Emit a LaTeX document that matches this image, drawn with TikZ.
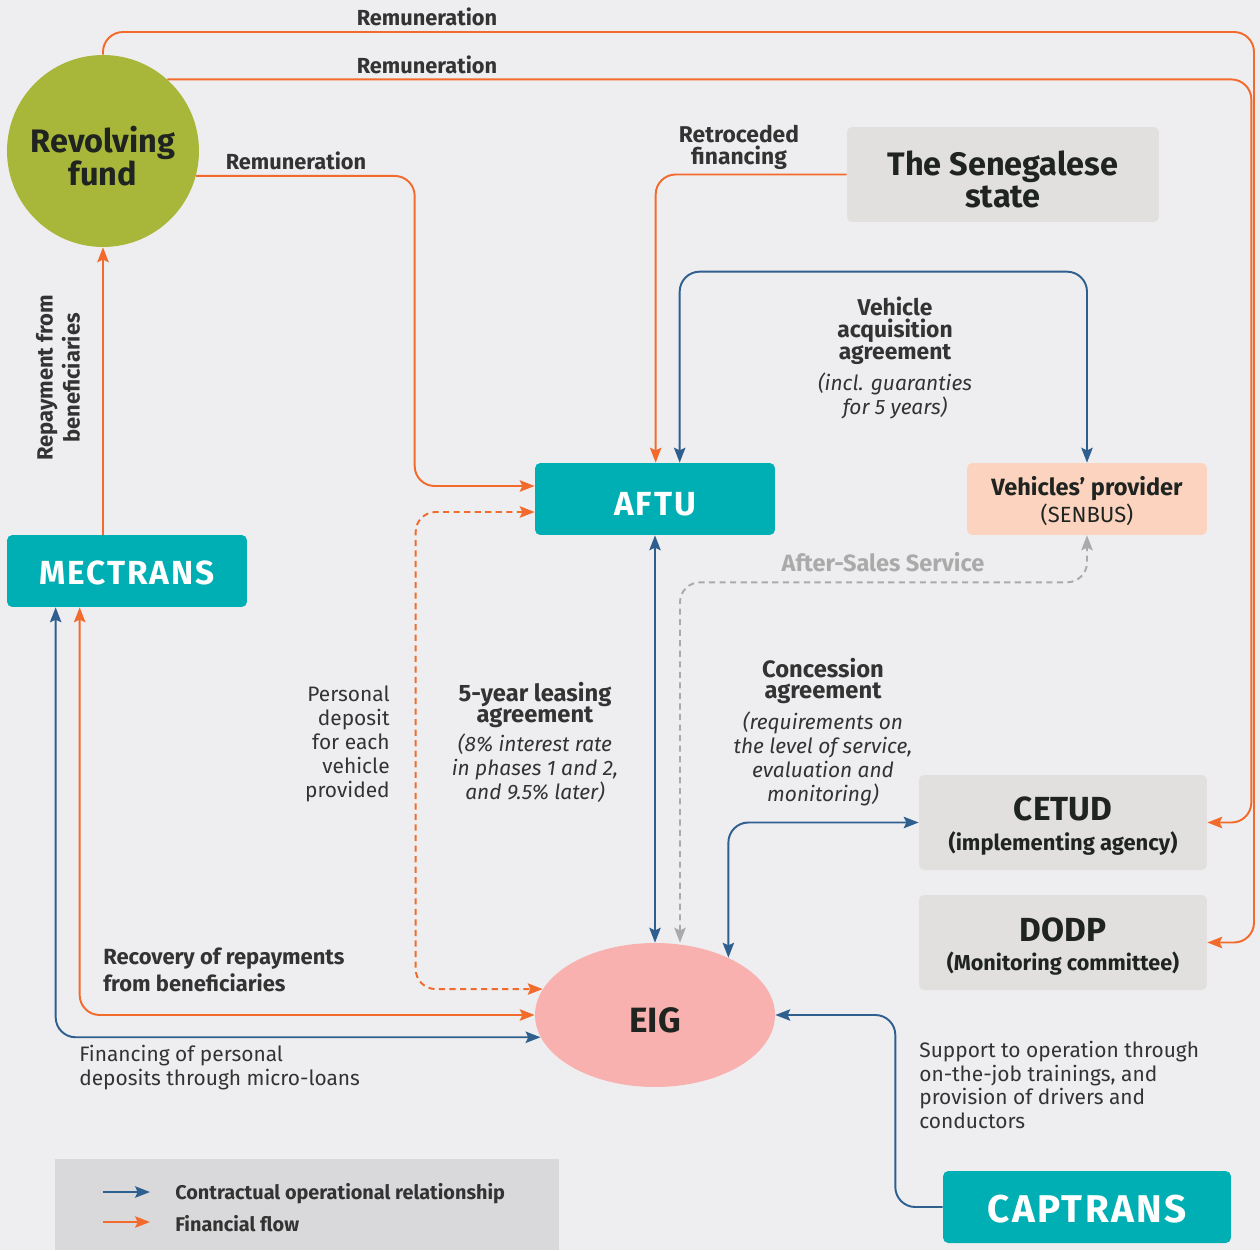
\documentclass[tikz,border=0pt]{standalone}
\usepackage{fontspec}
\setmainfont{Fira Sans}
\newfontfamily\widefont[LetterSpace=6.0]{Fira Sans}
\usetikzlibrary{arrows.meta,calc,shapes.geometric}

\definecolor{paper}{HTML}{EEEEF0}
\definecolor{olive}{HTML}{A8B739}
\definecolor{tealbox}{HTML}{00AFB3}
\definecolor{peach}{HTML}{FCD3BF}
\definecolor{stone}{HTML}{E1E0DE}
\definecolor{rose}{HTML}{F8B1AF}
\definecolor{flow}{HTML}{F26A2C}
\definecolor{contract}{HTML}{2F5F8F}
\definecolor{legendbg}{HTML}{D9D9DB}
\definecolor{ink}{HTML}{333333}
\definecolor{darkink}{HTML}{1F2421}
\definecolor{service}{HTML}{AAAAAA}

\tikzset{
  >={Stealth[length=8.5pt,width=6.5pt,inset=1.5pt]},
  money/.style={draw=flow, line width=1.1pt, rounded corners=0.4cm},
  deal/.style={draw=contract, line width=1.1pt, rounded corners=0.4cm},
  actor/.style={rectangle, rounded corners=3pt, inner sep=0pt},
  teambox/.style={actor, fill=tealbox, minimum height=1.44cm},
  actortext/.style={inner sep=0pt, text=darkink, align=center},
  teamtext/.style={inner sep=0pt, text=white, font=\widefont\bfseries\fontsize{19}{20}\selectfont},
  lbl/.style={inner sep=0pt, text=ink, align=center, font=\bfseries\fontsize{12.4}{14}\selectfont},
  note/.style={inner sep=0pt, text=ink, align=center, font=\itshape\fontsize{11.9}{13.6}\selectfont},
  txt/.style={inner sep=0pt, text=ink, font=\fontsize{11.9}{13.6}\selectfont}
}

\begin{document}
\begin{tikzpicture}[x=0.02cm, y=-0.02cm]
  \fill[paper] (0,0) rectangle (1260,1250);
  \useasboundingbox (0,0) rectangle (1260,1250);

  % actors
  \node[circle, fill=olive, minimum size=3.84cm, inner sep=0pt] (fund) at (103,151) {};
  \node[actortext, font=\bfseries\fontsize{18.5}{17.6}\selectfont] (fundtext) at ($(fund)+(0,5)$) {Revolving\\fund};
  \node[actor, fill=stone, minimum width=6.24cm, minimum height=1.9cm] (state) at (1003,174.5) {};
  \node[actortext, font=\bfseries\fontsize{18.5}{18}\selectfont] (statetext) at ($(state)+(0,5)$) {The Senegalese\\state};
  \node[teambox, minimum width=4.8cm] (aftu) at (655,499) {};
  \node[teamtext] (aftutext) at ($(aftu)+(0,5)$) {AFTU};
  \node[actor, fill=peach, minimum width=4.8cm, minimum height=1.44cm] (provider) at (1087,499) {};
  \node[actortext, font=\fontsize{12.5}{15.3}\selectfont] (providertext) at ($(provider)+(0,2)$)
        {{\bfseries\fontsize{13.4}{15.3}\selectfont Vehicles’ provider}\\(SENBUS)};
  \node[teambox, minimum width=4.8cm] (mectrans) at (127,571) {};
  \node[teamtext] (mectranstext) at ($(mectrans)+(0,2)$) {MECTRANS};
  \node[actor, fill=stone, minimum width=5.76cm, minimum height=1.9cm] (cetud) at (1063,822.5) {};
  \node[actortext, font=\bfseries\fontsize{12.5}{17}\selectfont] (cetudtext) at ($(cetud)+(0,4)$)
        {{\fontsize{19}{20}\selectfont CETUD}\\(implementing agency)};
  \node[actor, fill=stone, minimum width=5.76cm, minimum height=1.9cm] (dodp) at (1063,942.5) {};
  \node[actortext, font=\bfseries\fontsize{12.3}{17}\selectfont] (dodptext) at ($(dodp)+(0,4)$)
        {{\fontsize{19}{20}\selectfont DODP}\\(Monitoring committee)};
  \node[ellipse, fill=rose, minimum width=4.8cm, minimum height=2.88cm, inner sep=0pt] (eig) at (655,1015) {};
  \node[actortext, font=\bfseries\fontsize{20}{20}\selectfont] (eigtext) at ($(eig)+(0,5)$) {EIG};
  \node[teambox, minimum width=5.76cm] (captrans) at (1087,1207) {};
  \node[teamtext, font=\widefont\bfseries\fontsize{22}{24}\selectfont] (captranstext) at ($(captrans)+(0,2)$) {CAPTRANS};
  \node[fill=legendbg, minimum width=10.08cm, minimum height=1.82cm, inner sep=0pt] (legend) at (307,1204.5) {};

  % flows
  \coordinate (corner) at (1254,32);
  \draw[money,->] (fund.north) |- (corner) |- (dodp.east);
  \draw[money,->] (fund.48) -| ($(cetud.east)+(44,0)$) -- (cetud.east);
  \draw[money,->] (fund.-15) -| ($(aftu.west)+(-120,-13)$) -- ($(aftu.west)+(0,-13)$);
  \draw[money,->] (state.west) -| ($(aftu.north west)+(121,0)$);
  \draw[money,dash pattern=on 3.5pt off 2.5pt,<->] ($(aftu.west)+(0,13)$) -| ($(eig.167)+(-127,0)$) -- (eig.167);
  \draw[money,<->] ($(mectrans.south west)+(73,0)$) |- (eig.west);
  \draw[money,->] (fund.south |- mectrans.north) -- (fund.south);

  % contracts
  \draw[deal,<->] ($(mectrans.south west)+(49,0)$) |- (eig.191);
  \draw[deal,<->] ($(aftu.north west)+(145,0)$) |- ($(provider.north)+(-200,-191)$) -| (provider.north);
  \draw[draw=service, line width=1.1pt, rounded corners=0.4cm, dash pattern=on 3.5pt off 2.5pt, <->]
        ($(eig.north)+(25,0)$) |- ($(provider.south)+(-200,47)$) -| (provider.south);
  \draw[deal,<->] (aftu.south) -- (eig.north);
  \draw[deal,<->] (eig.38) |- (cetud.west);
  \draw[deal,->] (captrans.west) -| ($(eig.east)+(120,0)$) -- (eig.east);

  % labels
  \node[lbl] (rem1) at (427,17) {Remuneration};
  \node[lbl] (rem2) at (427,65) {Remuneration};
  \node[lbl] (rem3) at (296,161) {Remuneration};
  \node[lbl, font=\bfseries\fontsize{13}{12.5}\selectfont] (retro) at (739,147) {Retroceded\\financing};
  \node[lbl, font=\bfseries\fontsize{13}{12.5}\selectfont] (vaa) at (895,331) {Vehicle\\acquisition\\agreement};
  \node[note] (vaanote) at (895,396) {(incl. guaranties\\for 5 years)};
  \node[lbl, text=service, font=\bfseries\fontsize{13.4}{14}\selectfont] (after) at (883,562) {After-Sales Service};
  \node[txt, align=right, anchor=east] (deposit) at (390,744) {Personal\\deposit\\for each\\vehicle\\provided};
  \node[lbl, font=\bfseries\fontsize{13.5}{12.5}\selectfont] (leasing) at (535,705) {5-year leasing\\agreement};
  \node[note] (leasingnote) at (535,768) {(8\% interest rate\\in phases 1 and 2,\\and 9.5\% later)};
  \node[lbl, font=\bfseries\fontsize{13.5}{12.5}\selectfont] (concession) at (823,681) {Concession\\agreement};
  \node[note] (concessionnote) at (823,759) {(requirements on\\the level of service,\\evaluation and\\monitoring)};
  \node[lbl, align=left, anchor=west, font=\bfseries\fontsize{12.5}{15.3}\selectfont] (recovery) at (103,970) {Recovery of repayments\\from beneficiaries};
  \node[txt, align=left, anchor=west] (microloans) at (79,1068) {Financing of personal\\deposits through micro-loans};
  \node[txt, align=left, anchor=west] (support) at (919,1085) {Support to operation through\\on-the-job trainings, and\\provision of drivers and\\conductors};
  \node[lbl, rotate=90, font=\bfseries\fontsize{12.5}{15.3}\selectfont] (repay) at (58,378) {Repayment from\\beneficiaries};

  % legend
  \coordinate (lgdealtail) at (103,1192);
  \coordinate (lgmoneytail) at (103,1222);
  \node[lbl, anchor=west, font=\bfseries\fontsize{11.3}{12}\selectfont] (lgdeal) at (175,1194) {Contractual operational relationship};
  \node[lbl, anchor=west, font=\bfseries\fontsize{11.3}{12}\selectfont] (lgmoney) at (175,1224) {Financial flow};
  \draw[deal,->] (lgdealtail) -- ++(47,0);
  \draw[money,->] (lgmoneytail) -- ++(47,0);
\end{tikzpicture}
\end{document}
